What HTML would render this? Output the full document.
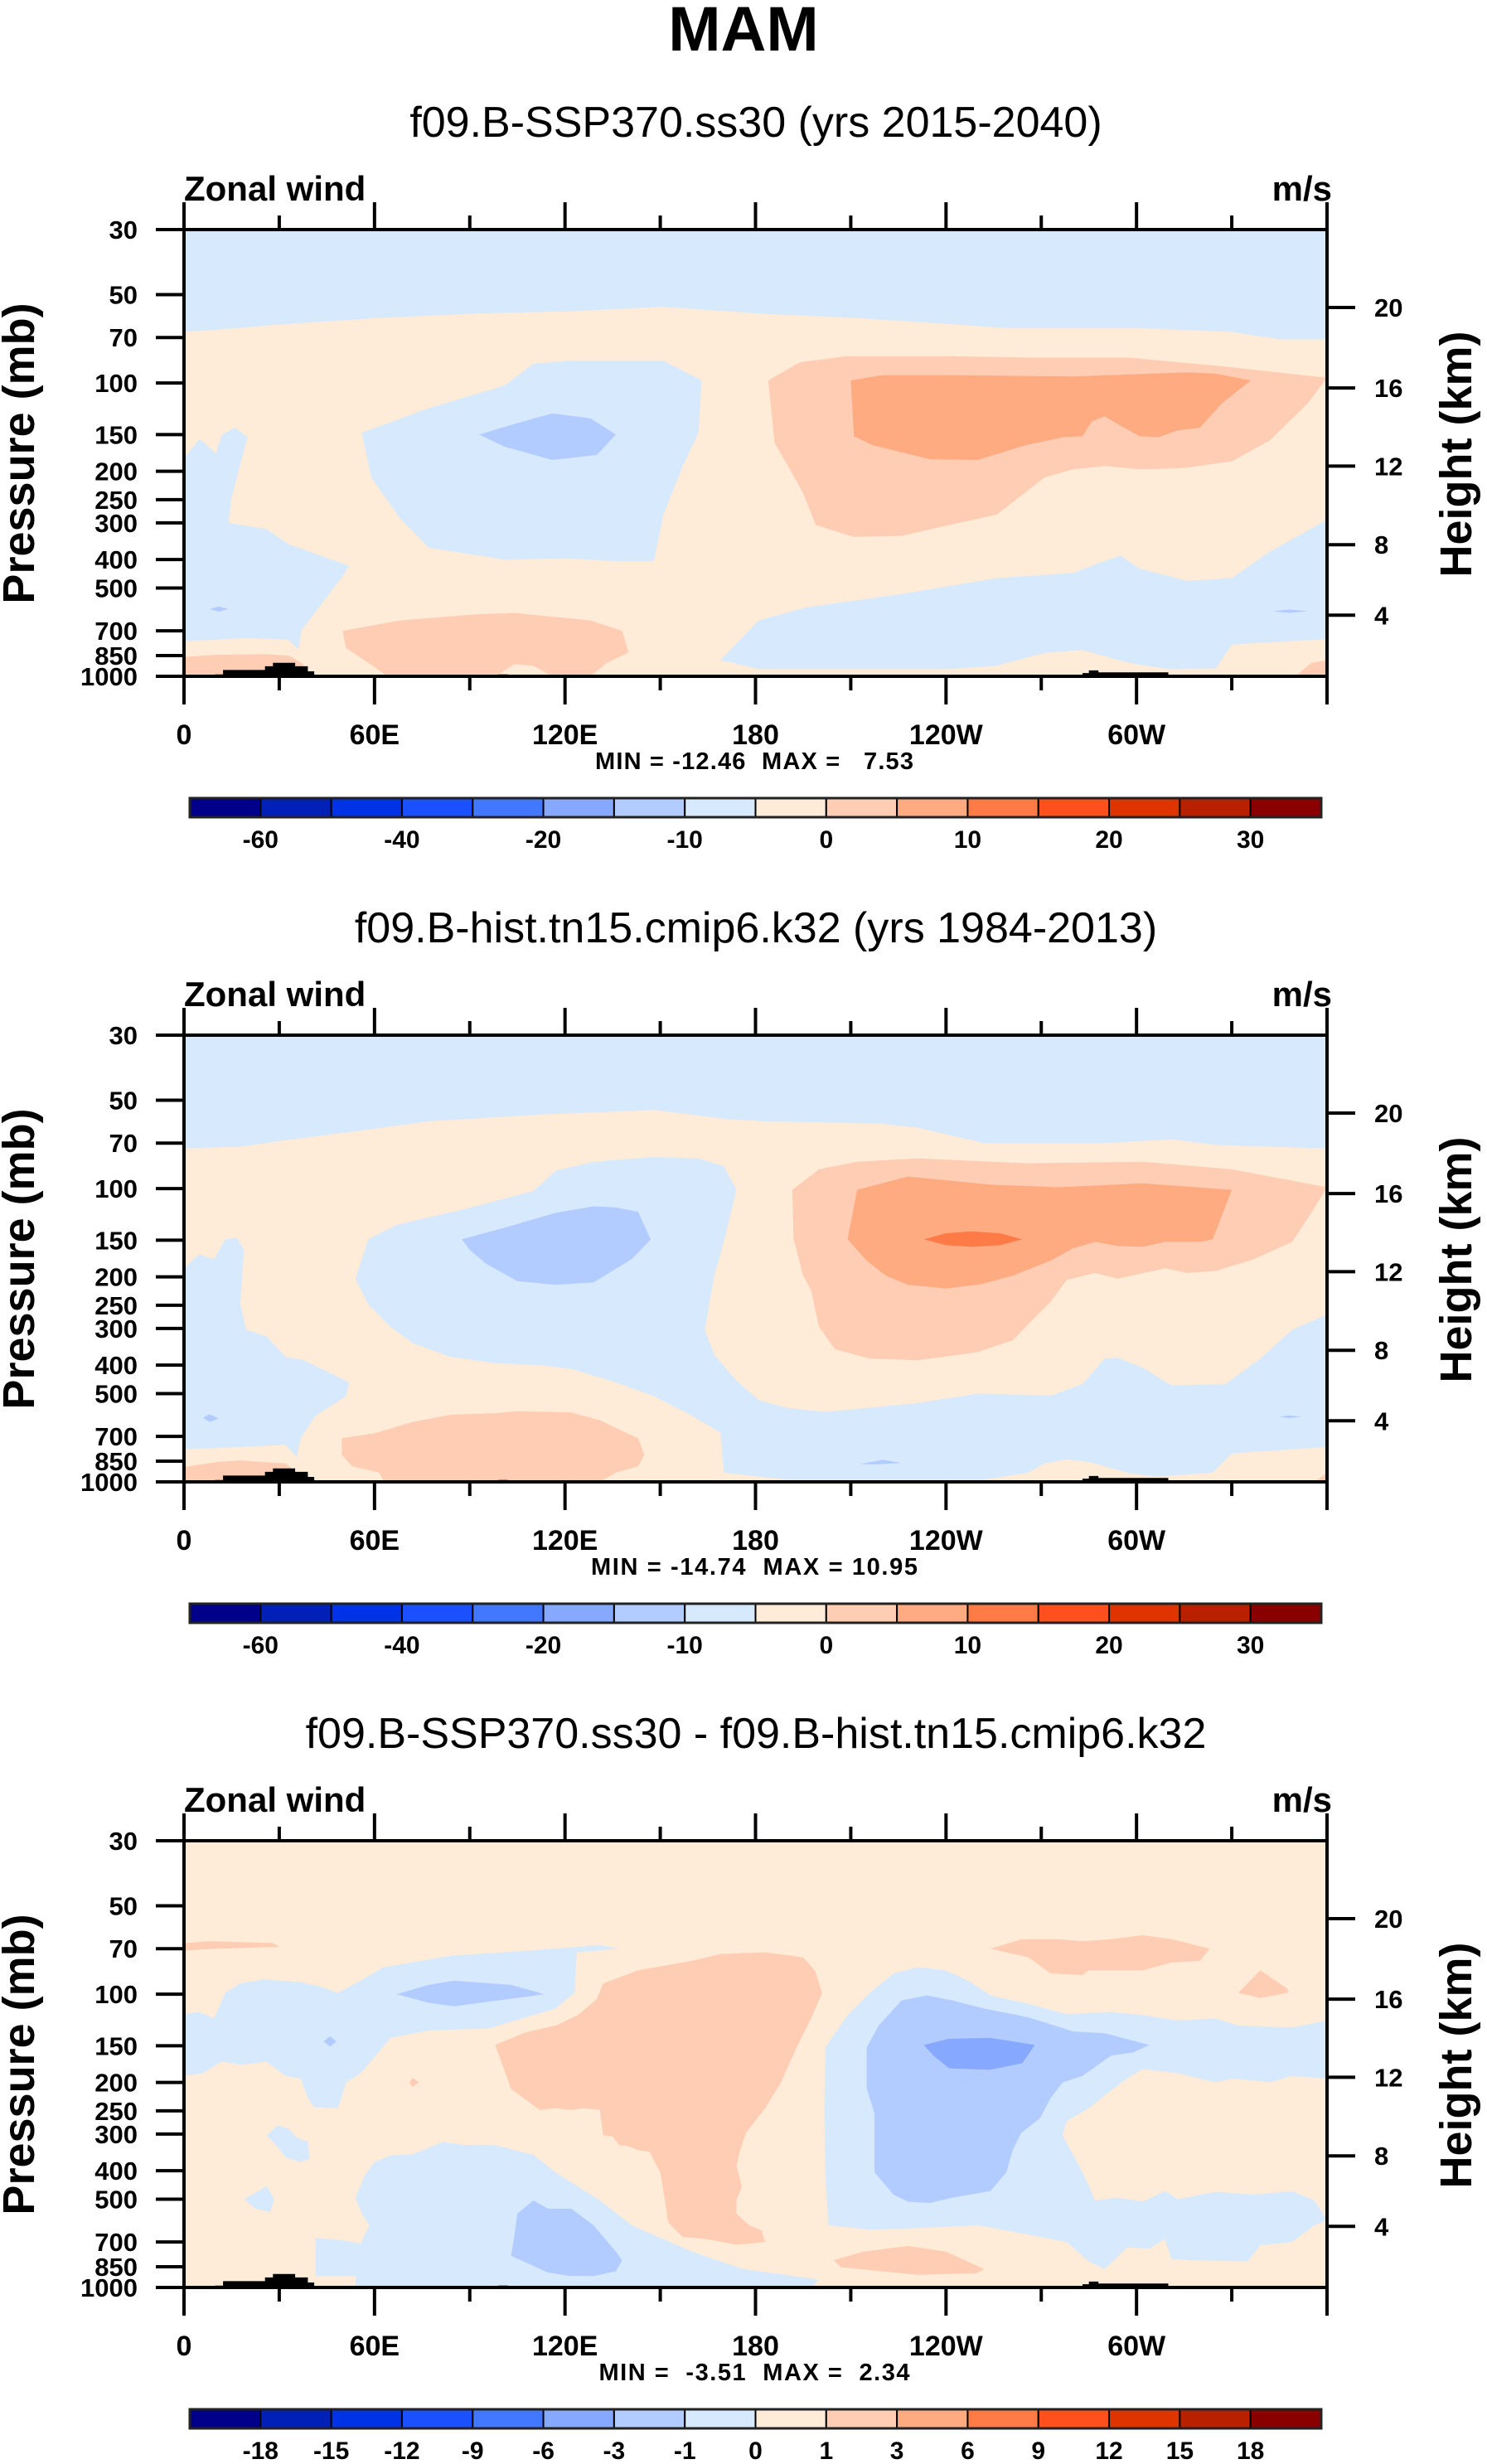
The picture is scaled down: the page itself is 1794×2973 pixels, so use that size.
<!DOCTYPE html>
<html><head><meta charset="utf-8"><style>
html,body{margin:0;padding:0;background:#fff}
svg{display:block}
text{font-family:"Liberation Sans",Arial,sans-serif}
</style></head><body>
<svg id="fig" xmlns="http://www.w3.org/2000/svg" width="1794" height="2973" viewBox="0 0 1794 2973">
<rect x="0" y="0" width="1794" height="2973" fill="#fff"/>
<text x="897" y="61" font-size="76" font-weight="bold" text-anchor="middle">MAM</text>
</svg>
<script>
// ---- data ----
const palette = ["#00008a","#0020b8","#0032e6","#1a50ff","#4178ff","#86a8ff","#b3ccff","#d6e9fd","#feebd8","#fecdb3","#feab82","#fe7b47","#fe501c","#e03400","#b82000","#8a0000"];
const pressureTicks = [30,50,70,100,150,200,250,300,400,500,700,850,1000];
const lonTicks = [0,60,120,180,240,300];
const lonTickLabels = ["0","60E","120E","180","120W","60W"];
const heightTickLabels = ["20","16","12","8","4"];
const heightTickPressures = [55.3,104,192,356,619];
const cbLabelsFull = ["-60","","-40","","-20","","-10","","0","","10","","20","","30"];
const cbLabelsDiff = ["-18","-15","-12","-9","-6","-3","-1","0","1","3","6","9","12","15","18"];
const subtitles = ["f09.B-SSP370.ss30 (yrs 2015-2040)","f09.B-hist.tn15.cmip6.k32 (yrs 1984-2013)","f09.B-SSP370.ss30 - f09.B-hist.tn15.cmip6.k32"];
const minMaxText = ["MIN = -12.46  MAX =   7.53","MIN = -14.74  MAX = 10.95","MIN =  -3.51  MAX =  2.34"];
const topography = [
 [[9.7,1000],[9.7,985],[12.3,985],[12.3,952],[25.5,952],[25.5,924],[28,924],[28,900],[35,900],[35,924],[39,924],[39,962],[41,962],[41,1000]],
 [[99,1000],[99,985],[102,985],[102,1000]],
 [[283,1000],[283,975],[285,975],[285,955],[288,955],[288,970],[310,970],[310,1000]]
];
// panel 1 regions [colorIndex, [[lon,p],...]]
const p1Regions = [
 [7,[[0,30],[360,30],[360,71],[345,71],[330,67],[301,65],[259,65],[241,63],[211,60],[181,58],[151,55],[121,57],[92,58],[62,60],[32,63],[17,65],[0,67]]],
 [7,[[0,180],[5,155],[10,174],[12,150],[16,142],[20,153],[15,245],[14,300],[26,315],[33,355],[52,420],[50,455],[37,697],[36,810],[33,750],[20,740],[0,760]]],
 [7,[[56,148],[77,122],[101,102],[110,86],[121,84],[151,84],[163,98],[162,148],[157,193],[151,281],[148,405],[136,405],[121,396],[101,400],[77,364],[74,337],[68,289],[59,210]]],
 [6,[[93,150],[104,138],[116,127],[128,132],[136,150],[130,176],[116,183],[101,165]]],
 [9,[[184,98],[194,85],[209,81],[239,81],[269,82],[298,82],[328,88],[360,96],[354,117],[342,157],[330,185],[315,195],[301,197],[290,192],[280,197],[271,210],[256,281],[241,305],[226,332],[211,335],[199,305],[195,238],[190,190],[186,160]]],
 [10,[[210,98],[220,94],[241,94],[280,95],[316,92],[325,93],[336,98],[327,117],[320,142],[313,145],[307,153],[301,152],[295,140],[290,130],[286,135],[283,152],[277,153],[265,163],[250,183],[235,182],[217,163],[211,152]]],
 [7,[[169,880],[181,645],[196,582],[226,524],[256,463],[280,444],[289,408],[295,388],[301,430],[316,473],[330,463],[342,376],[360,293],[360,746],[330,780],[325,940],[310,945],[298,902],[283,814],[271,832],[256,920],[241,945],[181,945]]],
 [9,[[0,860],[10,845],[25,840],[33,850],[37,900],[40,1000],[0,1000]]],
 [9,[[50,700],[68,645],[92,615],[104,608],[128,645],[138,700],[140,830],[133,902],[128,1000],[116,1000],[110,920],[104,910],[98,1000],[64,1000],[60,930],[51,800]]],
 [6,[[8,590],[11,578],[14,590],[11,602]]],
 [6,[[343,600],[348,592],[354,600],[348,608]]],
 [9,[[350,1000],[355,902],[360,880],[360,1000]]]
];
const p2Regions = [
 [7,[[0,30],[360,30],[360,73],[325,71],[311,68],[290,70],[252,70],[231,62],[219,60],[183,59],[171,58],[148,54],[112,56],[77,59],[53,64],[29.6,69],[17.7,72],[0,73]]],
 [7,[[58,149],[67,133],[89,117],[110,102],[117,87],[129,81],[148,78],[162,79],[170,84],[174,101],[170,152],[167,198],[164,303],[167,369],[174,452],[181,526],[190,560],[202,577],[231,539],[250,500],[273,508],[283,464],[290,380],[294,377],[302,408],[311,469],[328,464],[339,380],[349,303],[356,281],[360,268],[360,760],[330,800],[324,930],[306,960],[297,930],[285,855],[278,838],[271,865],[266,930],[252,983],[190,983],[170,930],[169,680],[160,595],[148,510],[136,458],[122,412],[112,400],[98,394],[84,375],[72,336],[65,296],[58,248],[54,203]]],
 [6,[[87.5,149],[103,134],[117,121],[129,115],[136,116],[143,120],[147,149],[141,174],[129,209],[117,213],[105,207],[95,180],[90,162]]],
 [7,[[0,187],[4.7,168],[9.5,174],[13,149],[16.6,147],[18.9,162],[17.7,248],[19.6,303],[26,319],[32,375],[37.8,385],[52,458],[51,510],[41.4,595],[36.7,710],[35.5,825],[32,748],[0,775]]],
 [9,[[191.6,101],[200,86],[212,81],[231,79],[266,82],[302,81],[330,86],[360,99],[354,126],[349,152],[337,174],[325,191],[316,194],[309,187],[294,203],[287,194],[278,205],[273,243],[268,275],[261,329],[250,361],[231,385],[216,380],[205,353],[200,296],[197.5,222],[195,198],[192,149]]],
 [10,[[212,101],[228,91],[254,97],[275.5,99],[302,96],[330,101],[324,149],[320,152],[309,152],[302,158],[294,157],[287,152],[280,160],[273,176],[261,198],[251,212],[240,219],[228,213],[221,198],[215,176],[209,149]]],
 [11,[[233,149],[240,142],[248,140],[257,142],[264,149],[257,156],[248,158],[240,156]]],
 [9,[[49.7,710],[60,683],[72,625],[84,590],[98,583],[105,574],[122,580],[131,617],[143,710],[145,808],[143,885],[136,930],[131,1000],[63,1000],[61.5,930],[53,885],[49.7,808]]],
 [9,[[0,890],[10.6,855],[17.7,845],[24.8,855],[32,865],[35.5,930],[39,1000],[0,1000]]],
 [6,[[6,605],[8,588],[11,608],[8,625]]],
 [6,[[213,870],[220,840],[226,862],[218,872]]],
 [6,[[345,600],[348,594],[352,600],[348,606]]],
 [9,[[356,1000],[360,930],[360,1000]]]
];
const p3Regions = [
 [7,[[0,117],[4.7,115],[9.5,121],[13,99],[17.7,92],[24.8,89],[36.7,91],[42.6,94],[48.5,99],[55.6,90],[62.7,81],[84,74],[100.5,72],[117,70],[131,68],[137,70],[123.7,72],[123,99],[117,112],[95.8,131],[77,133],[65,141],[60,164],[55.6,186],[51,200],[48.5,245],[41,243],[39,226],[36.7,194],[32,190],[26,170],[17.7,174],[11.8,170],[5.9,186],[0,190]]],
 [6,[[67,100],[77,93],[85,90],[103,93],[113.5,100],[105,103],[85,110],[77,107]]],
 [9,[[0,67],[8,66],[28,67],[30,69],[10,70],[0,71]]],
 [7,[[54,494],[57,414],[60,374],[65,355],[72,352],[81.6,319],[88.7,327],[98,327],[110,353],[117,405],[131,505],[141,614],[160,755],[176,865],[200,940],[197.6,1000],[54,1000],[54,915],[41.4,915],[41.4,678],[48.5,688],[55.6,708],[58.4,614],[56,560]]],
 [6,[[105,560],[110,505],[114.7,539],[122,539],[129,614],[136,755],[138,808],[136,880],[129,915],[122,915],[114.7,890],[103,780],[104,672]]],
 [7,[[26,303],[29.6,280],[33,288],[35.5,309],[39,318],[39.5,364],[36.7,374],[32,360],[29,327]]],
 [7,[[19,500],[26,452],[28.4,500],[27.2,553],[22.5,539]]],
 [6,[[44,145],[46,139],[48,145],[46,151]]],
 [9,[[71,200],[72,193],[74,200],[72,207]]],
 [9,[[98,149],[107.6,135],[117,128],[124,118],[130,104],[132,92],[143,83],[160,77],[169,73],[183,72],[195,75],[198.7,83],[201,99],[197.5,121],[192.7,154],[188,200],[183,245],[177,297],[175,345],[174,385],[175.7,452],[174,505],[174,560],[178,614],[182,640],[183,700],[174,715],[164,683],[157,672],[152.5,600],[151,469],[150,405],[146.6,345],[143,340],[139.5,329],[137,327],[135,305],[132,303],[131,248],[126,245],[122,248],[117,245],[112,248],[103,210],[100.5,177]]],
 [7,[[202,152],[209,118],[216,99],[223.5,85],[231,81],[240,83],[247,90],[254,101],[266,108],[278,117],[292,115],[302,118],[313,123],[325,121],[332,128],[349,130],[360,123],[360,194],[349,190],[342,200],[337,197],[330,194],[325,200],[313,186],[302,180],[297,194],[292,213],[285,245],[278,271],[276.7,303],[283,405],[287,505],[294,494],[302,510],[309,469],[313,500],[325,472],[337,483],[349,469],[356,505],[360,590],[356,614],[349,700],[339,717],[335,815],[318,808],[311,800],[309,683],[304,738],[297,730],[290,865],[285,815],[278,700],[261,645],[250,614],[231,628],[216,636],[203,614],[202,425],[201.7,255]]],
 [6,[[215,152],[218.8,128],[226,105],[234,101],[242,105],[252,112],[266,120],[280,134],[290,136],[304,149],[299,158],[292,162],[287,177],[283,190],[276.7,200],[273,226],[269.6,265],[263.7,297],[261,340],[259,405],[254,469],[242,494],[235,515],[228,510],[223.5,483],[217.5,405],[217.5,255],[215,210]]],
 [5,[[233,149],[241,142],[254,141],[268,149],[264,172],[254,181],[241,179],[236,162]]],
 [9,[[254,70],[264,65],[275.5,65],[283,66],[292,65],[302,63],[311,65],[323,70],[320,77],[311,78],[302,83],[285,83],[283,86],[273,85],[266,75]]],
 [9,[[332,99],[339,83],[347.6,96],[347.6,99],[339,103]]],
 [9,[[204.6,808],[214,755],[228,722],[240,755],[252,865],[249.6,895],[231,905],[207,853]]]
];
const panelRegions = [p1Regions, p2Regions, p3Regions];
const panelBackground = [8, 8, 8];

// ---- layout ----
const NS = "http://www.w3.org/2000/svg";
const svg = document.getElementById('fig');
const L = 222, R = 1601, TOP0 = 277, H = 539, DY = 972;
const mmWidths = [384, 394, 375];
function xOf(lon){ return L + lon/360*(R-L); }
function yOf(p, k){ return TOP0 + DY*k + H*Math.log(p/30)/Math.log(1000/30); }
function mk(tag, attrs, parent){ const e=document.createElementNS(NS,tag); for(const a in attrs) e.setAttribute(a,attrs[a]); (parent||svg).appendChild(e); return e; }
function pts(list,k){ return list.map(d=>xOf(d[0]).toFixed(1)+","+yOf(d[1],k).toFixed(1)).join(" "); }

for(let k=0;k<3;k++){
  const top = TOP0+DY*k, bot = top+H;
  const g = mk('g',{});
  
  
  const st = mk('text',{x:912,y:165+DY*k,'font-size':52,'text-anchor':'middle'},g);
  
  
  st.textContent = subtitles[k];
  const zl = mk('text',{x:222,y:242+DY*k,'font-size':42,'font-weight':'bold'},g);
  
  
  zl.textContent = "Zonal wind";
  const ul = mk('text',{x:1607,y:242+DY*k,'font-size':42,'font-weight':'bold','text-anchor':'end'},g);
  
  
  ul.textContent = "m/s";
  const cp = mk('clipPath',{id:'clip'+k},g);
  mk('rect',{x:L,y:top,width:R-L,height:H},cp);
  const plot = mk('g',{'clip-path':'url(#clip'+k+')'},g);
  
  
  const bg = mk('rect',{x:L,y:top,width:R-L,height:H,fill:palette[panelBackground[k]]},plot);
  
  
  panelRegions[k].forEach((r,i)=>{
    const pg = mk('polygon',{points:pts(r[1],k),fill:palette[r[0]]},plot);
    
    
  });
  topography.forEach(t=>{
    const tp = mk('polygon',{points:pts(t,k),fill:'#000'},plot);
    
    
  });
  const fr = mk('rect',{x:L,y:top,width:R-L,height:H,fill:'none',stroke:'#000','stroke-width':4},g);
  
  
  pressureTicks.forEach(p=>{
    const y=yOf(p,k);
    const tk = mk('line',{x1:188,x2:L,y1:y,y2:y,stroke:'#000','stroke-width':4},g);
    
    
    const tl = mk('text',{x:166,y:y+11,'font-size':31,'font-weight':'bold','text-anchor':'end'},g);
    
    
    tl.textContent = p;
  });
  heightTickPressures.forEach((p,i)=>{
    const y=yOf(p,k);
    const tk = mk('line',{x1:R,x2:1635,y1:y,y2:y,stroke:'#000','stroke-width':4},g);
    
    
    const tl = mk('text',{x:1658,y:y+11,'font-size':31,'font-weight':'bold'},g);
    
    
    tl.textContent = heightTickLabels[i];
  });
  for(let lon=0; lon<=360; lon+=30){
    const x=xOf(lon), major = lon%60===0;
    const t1 = mk('line',{x1:x,x2:x,y1:top,y2:top-(major?33:17),stroke:'#000','stroke-width':4},g);
    
    
    const t2 = mk('line',{x1:x,x2:x,y1:bot,y2:bot+(major?34:17),stroke:'#000','stroke-width':4},g);
    
    
  }
  lonTicks.forEach((lon,i)=>{
    const xl = mk('text',{x:xOf(lon),y:bot+82,'font-size':34,'font-weight':'bold','text-anchor':'middle'},g);
    
    
    xl.textContent = lonTickLabels[i];
  });
  const mm = mk('text',{x:910,y:bot+112,'font-size':29,'font-weight':'bold','text-anchor':'middle',textLength:mmWidths[k],lengthAdjust:'spacing'},g);
  
  
  mm.setAttribute('style','white-space:pre');
  mm.textContent = minMaxText[k];
  const cy = top + 270;
  const pt = mk('text',{x:0,y:0,'font-size':54,'font-weight':'bold','text-anchor':'middle',transform:'translate(41,'+cy+') rotate(-90)'},g);
  
  
  pt.textContent = "Pressure (mb)";
  const ht = mk('text',{x:0,y:0,'font-size':54,'font-weight':'bold','text-anchor':'middle',transform:'translate(1775,'+(cy+1)+') rotate(-90)'},g);
  
  
  ht.textContent = "Height (km)";
  const cbx0=229, cbx1=1594, cby=963+DY*k, cbh=23, bw=(cbx1-cbx0)/16;
  const cb = mk('g',{},g);
  
  
  palette.forEach((c,i)=>{
    const b = mk('rect',{x:cbx0+i*bw,y:cby,width:bw,height:cbh,fill:c,stroke:'#000','stroke-width':2},cb);
    
    
  });
  const cbo = mk('rect',{x:cbx0,y:cby,width:cbx1-cbx0,height:cbh,fill:'none',stroke:'#222','stroke-width':3},cb);
  
  
  const labs = k<2 ? cbLabelsFull : cbLabelsDiff;
  labs.forEach((s,i)=>{
    if(!s) return;
    const cl = mk('text',{x:cbx0+(i+1)*bw,y:cby+60,'font-size':30,'font-weight':'bold','text-anchor':'middle'},cb);
    
    
    cl.textContent = s;
  });
}
</script>
</body></html>
